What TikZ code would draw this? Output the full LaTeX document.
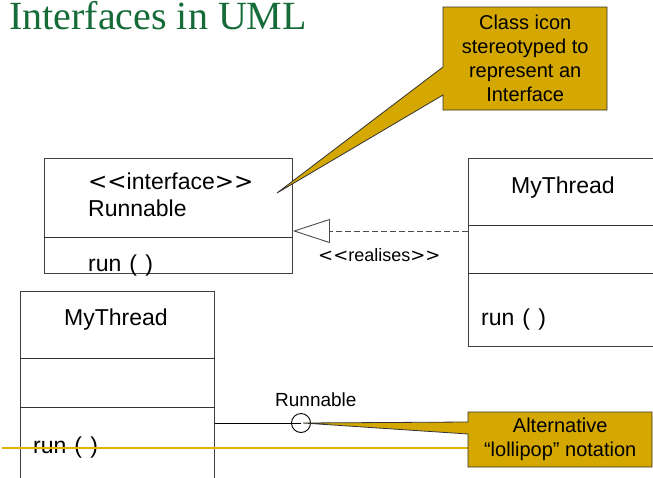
\documentclass[tikz,border=0pt]{standalone}
\usepackage{fontspec}
\setmainfont{Liberation Sans}
\newfontfamily\titlefont{Liberation Serif}
\newfontfamily\dvfont{DejaVu Sans}
\usetikzlibrary{arrows.meta}
\definecolor{titlegreen}{RGB}{22,108,56}
\definecolor{gold}{RGB}{212,168,0}
\definecolor{goldline}{RGB}{228,178,0}
\newcommand{\lsym}{{\dvfont<}}
\newcommand{\gsym}{{\dvfont>}}
\newcommand{\runtxt}{run\hspace{1.5pt} (\hspace{2pt} )}
\tikzset{
  classbox/.style={draw=black!75, line width=0.9pt, inner sep=0pt, anchor=north west},
  divider/.style={draw=black!80, line width=0.9pt},
  boxtext/.style={inner sep=0pt, font=\fontsize{23}{27}\selectfont},
  smalltext/.style={inner sep=0pt, font=\fontsize{18}{22}\selectfont},
  callout/.style={fill=gold, draw=black!80, line width=0.8pt, line join=miter},
  calltext/.style={inner sep=0pt, align=center, font=\fontsize{20}{24}\selectfont},
}
\begin{document}
\begin{tikzpicture}[x=1pt,y=-1pt]
\clip (0,0) rectangle (653,477);
\fill[white] (0,0) rectangle (653,477);

% title
\node[anchor=base west, inner sep=0pt, text=titlegreen, font=\titlefont\fontsize{40}{45}\selectfont] (title) at (9,29.5) {Interfaces in UML};

% interface box
\node[classbox, minimum width=248pt, minimum height=115pt] (iface) at (44,158) {};
\draw[divider] (iface.west |- 0,237) -- (iface.east |- 0,237);
\node[boxtext, anchor=base west] (ifst) at (88,189) {\lsym\lsym interface\gsym\gsym};
\node[boxtext, anchor=base west] (ifname) at (88,216) {Runnable};
\node[boxtext, anchor=base west] (ifrun) at (88,271) {\runtxt};

% right MyThread box
\node[classbox, minimum width=220pt, minimum height=188pt] (mt1) at (468,158) {};
\draw[divider] (mt1.west |- 0,225) -- (mt1.east |- 0,225);
\draw[divider] (mt1.west |- 0,273) -- (mt1.east |- 0,273);
\node[boxtext, anchor=base] (mt1name) at (563,193) {MyThread};
\node[boxtext, anchor=base west] (mt1run) at (481,325) {\runtxt};

% realisation
\coordinate (realy) at (0,231);
\draw[black!70, line width=0.9pt, dash pattern=on 6pt off 3pt,
      -{Triangle[open, length=37pt, width=24pt, line width=0.9pt, fill=white]}]
  (mt1.west |- realy) -- (iface.east |- realy);
\node[smalltext, anchor=base west] (real) at (318,261) {\lsym\lsym realises\gsym\gsym};

% bottom-left MyThread box
\node[classbox, minimum width=194pt, minimum height=220pt] (mt2) at (20,291) {};
\draw[divider] (mt2.west |- 0,358) -- (mt2.east |- 0,358);
\draw[divider] (mt2.west |- 0,407) -- (mt2.east |- 0,407);
\node[boxtext, anchor=base] (mt2name) at (116,325) {MyThread};
\node[boxtext, anchor=base west] (mt2run) at (33,453) {\runtxt};

% orange line
\coordinate (ol) at (2,448);
\draw[goldline, line width=1.4pt] (ol) -- (470,448);

% lollipop
\node[draw=black, line width=0.9pt, circle, minimum size=19pt, inner sep=0pt] (lol) at (301,423) {};
\draw[black, line width=0.9pt] (mt2.east |- lol) -- (lol.center);
\node[smalltext, font=\fontsize{19}{22}\selectfont, anchor=base west] (lollab) at (275,406) {Runnable};

% callout 1
\path[callout] (443,7) -- (607,7) -- (607,110) -- (443,110) -- (443,95) -- (277,193) -- (443,67) -- cycle;
\node[calltext, minimum width=164pt, minimum height=103pt, anchor=north west] (c1) at (443,7)
  {Class icon\\stereotyped to\\represent an\\Interface};

% callout 2
\path[callout] (468,412) -- (652,412) -- (652,467) -- (468,467) -- (468,434) -- (303,423) -- (468,422) -- cycle;
\node[calltext, minimum width=184pt, minimum height=55pt, anchor=north west] (c2) at (468,412)
  {Alternative\\``lollipop'' notation};
\end{tikzpicture}
\end{document}
